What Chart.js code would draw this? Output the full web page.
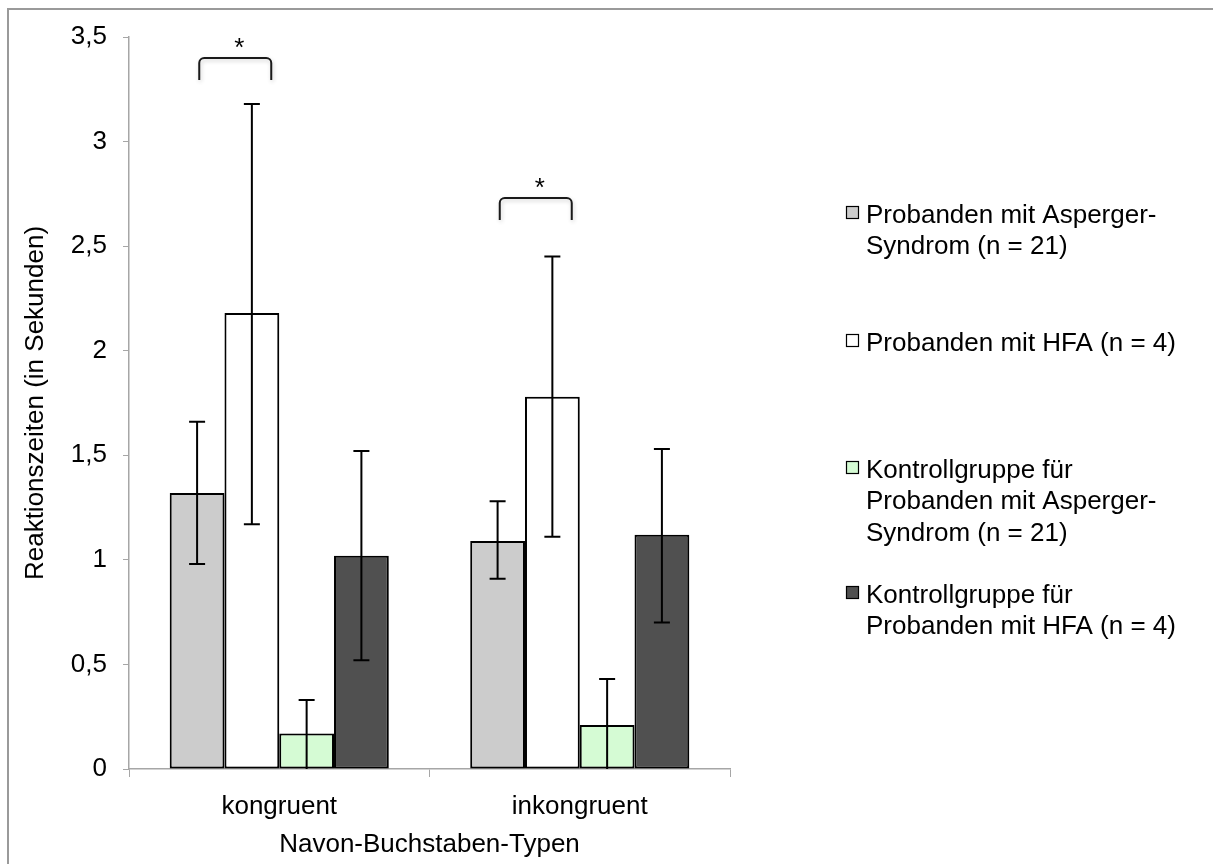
<!DOCTYPE html>
<html>
<head>
<meta charset="utf-8">
<script src="https://cdn.jsdelivr.net/npm/chart.js@4.4.1/dist/chart.umd.min.js"></script>
<style>
  html, body { margin: 0; padding: 0; background: #ffffff; }
  #wrap { width: 1213px; height: 864px; position: relative; }
</style>
</head>
<body>
<div id="wrap"><canvas id="c"></canvas></div>
<script>
// ---- data ----
const categories = ['kongruent', 'inkongruent'];
const seriesLabels = [
  ['Probanden mit Asperger-', 'Syndrom (n = 21)'],
  ['Probanden mit HFA (n = 4)'],
  ['Kontrollgruppe für', 'Probanden mit Asperger-', 'Syndrom (n = 21)'],
  ['Kontrollgruppe für', 'Probanden mit HFA (n = 4)']
];
const aspergerMean = [1.32, 1.09];
const aspergerLow  = [0.98, 0.91];
const aspergerHigh = [1.66, 1.28];
const hfaMean = [2.18, 1.78];
const hfaLow  = [1.17, 1.11];
const hfaHigh = [3.18, 2.45];
const kontrollAspMean = [0.17, 0.21];
const kontrollAspLow  = [0.00, 0.00];
const kontrollAspHigh = [0.33, 0.43];
const kontrollHfaMean = [1.02, 1.12];
const kontrollHfaLow  = [0.52, 0.70];
const kontrollHfaHigh = [1.52, 1.53];
const yTicks = [0, 0.5, 1, 1.5, 2, 2.5, 3, 3.5];
const significanceCategories = [0, 1];
const significanceLevel = [3.40, 2.73];
const significanceMark = '*';
const yTitle = 'Reaktionszeiten (in Sekunden)';
const xTitle = 'Navon-Buchstaben-Typen';

// ---- styles ----
const FONT = '"Liberation Sans", Arial, Helvetica, sans-serif';
const FS = 26;
const colors = ['#cccccc', '#ffffff', '#d5fbd4', '#505050'];
const axisColor = '#a6a6a6';

const means = [aspergerMean, hfaMean, kontrollAspMean, kontrollHfaMean];
const lows = [aspergerLow, hfaLow, kontrollAspLow, kontrollHfaLow];
const highs = [aspergerHigh, hfaHigh, kontrollAspHigh, kontrollHfaHigh];

const datasets = means.map((m, i) => ({
  label: seriesLabels[i].join(' '),
  data: m,
  errLow: lows[i],
  errHigh: highs[i],
  backgroundColor: colors[i],
  borderColor: '#000000',
  borderWidth: 2,
  borderSkipped: false,
  categoryPercentage: 0.729,
  barPercentage: 1.0
}));

const framePlugin = {
  id: 'frame',
  beforeDraw(chart) {
    const ctx = chart.ctx;
    ctx.save();
    ctx.fillStyle = '#ffffff';
    ctx.fillRect(0, 0, chart.width, chart.height);
    ctx.strokeStyle = '#9a9a9a';
    ctx.lineWidth = 2;
    ctx.beginPath();
    ctx.moveTo(8, chart.height + 5);
    ctx.lineTo(8, 9);
    ctx.lineTo(chart.width + 5, 9);
    ctx.stroke();
    ctx.restore();
  }
};

const errorBarPlugin = {
  id: 'errorBars',
  beforeDatasetsDraw(chart) {
    const ctx = chart.ctx;
    ctx.save();
    ctx.shadowColor = 'rgba(0,0,0,0.18)';
    ctx.shadowBlur = 5;
    ctx.shadowOffsetX = 2;
    ctx.shadowOffsetY = 2;
  },
  afterDatasetsDraw(chart) {
    const ctx = chart.ctx;
    ctx.restore();
    const ys = chart.scales.y;
    ctx.save();
    ctx.strokeStyle = '#000000';
    ctx.lineWidth = 2;
    chart.data.datasets.forEach((ds, i) => {
      const meta = chart.getDatasetMeta(i);
      meta.data.forEach((bar, j) => {
        const x = bar.x;
        const yl = ys.getPixelForValue(ds.errLow[j]);
        const yh = ys.getPixelForValue(ds.errHigh[j]);
        ctx.beginPath();
        ctx.moveTo(x, yl);
        ctx.lineTo(x, yh);
        ctx.moveTo(x - 8, yh);
        ctx.lineTo(x + 8, yh);
        if (ds.errLow[j] > 0) {
          ctx.moveTo(x - 8, yl);
          ctx.lineTo(x + 8, yl);
        }
        ctx.stroke();
      });
    });
    ctx.restore();
  }
};

const annotationPlugin = {
  id: 'annotations',
  afterDraw(chart) {
    const ctx = chart.ctx;
    const xs = chart.scales.x, ys = chart.scales.y;
    ctx.save();
    significanceCategories.forEach((ci, k) => {
      const cx = xs.getPixelForValue(ci);
      const x1 = cx - 80, x2 = cx - 8;
      const yTop = ys.getPixelForValue(significanceLevel[k]);
      const yBot = yTop + 22;
      const r = 5;
      ctx.save();
      ctx.shadowColor = 'rgba(0,0,0,0.2)';
      ctx.shadowBlur = 4;
      ctx.shadowOffsetX = 1;
      ctx.shadowOffsetY = 2;
      ctx.strokeStyle = '#1a1a1a';
      ctx.lineWidth = 2;
      ctx.beginPath();
      ctx.moveTo(x1, yBot);
      ctx.lineTo(x1, yTop + r);
      ctx.arcTo(x1, yTop, x1 + r, yTop, r);
      ctx.lineTo(x2 - r, yTop);
      ctx.arcTo(x2, yTop, x2, yTop + r, r);
      ctx.lineTo(x2, yBot);
      ctx.stroke();
      ctx.restore();
      ctx.fillStyle = '#000000';
      ctx.font = FS + 'px ' + FONT;
      ctx.textAlign = 'center';
      ctx.textBaseline = 'alphabetic';
      ctx.fillText(significanceMark, (x1 + x2) / 2 + 4, yTop - 2);
    });
    ctx.restore();
  }
};

const legendPlugin = {
  id: 'customLegend',
  afterDraw(chart) {
    const ctx = chart.ctx;
    const firstBaselines = [223, 351, 478, 603];
    const lineStep = 31.3;
    const markerX = 846, textX = 866, markerSize = 13;
    ctx.save();
    ctx.font = FS + 'px ' + FONT;
    ctx.textAlign = 'left';
    ctx.textBaseline = 'alphabetic';
    chart.data.datasets.forEach((ds, i) => {
      const b = firstBaselines[i];
      ctx.fillStyle = ds.backgroundColor;
      ctx.fillRect(markerX, b - 17, markerSize, markerSize);
      ctx.strokeStyle = '#000000';
      ctx.lineWidth = 1.2;
      ctx.strokeRect(markerX + 0.5, b - 16.5, markerSize - 1, markerSize - 1);
      ctx.fillStyle = '#000000';
      seriesLabels[i].forEach((line, li) => {
        ctx.fillText(line, textX, b + li * lineStep);
      });
    });
    ctx.restore();
  }
};

new Chart(document.getElementById('c'), {
  type: 'bar',
  data: { labels: categories, datasets },
  plugins: [framePlugin, errorBarPlugin, annotationPlugin, legendPlugin],
  options: {
    responsive: true,
    maintainAspectRatio: false,
    animation: false,
    devicePixelRatio: 1,
    layout: { padding: { top: 37, right: 483, left: 0, bottom: 0 } },
    plugins: {
      legend: { display: false },
      tooltip: { enabled: false },
      title: { display: false }
    },
    scales: {
      x: {
        offset: true,
        grid: { display: true, drawOnChartArea: false, drawTicks: true, tickLength: 8, color: axisColor, offset: true },
        border: { display: true, color: axisColor, width: 1.5 },
        ticks: { color: '#000000', font: { family: FONT, size: FS }, padding: 14 },
        title: { display: true, text: xTitle, color: '#000000', font: { family: FONT, size: FS }, padding: { top: 0, bottom: 4 } },
        afterFit(scale) { scale.height = 95; }
      },
      y: {
        min: 0,
        max: 3.5,
        afterBuildTicks(scale) { scale.ticks = yTicks.map(v => ({ value: v })); },
        grid: { display: true, drawOnChartArea: false, drawTicks: true, tickLength: 6, color: axisColor },
        border: { display: true, color: axisColor, width: 1.5 },
        ticks: {
          color: '#000000',
          font: { family: FONT, size: FS },
          padding: 16,
          callback: v => String(v).replace('.', ',')
        },
        title: { display: true, text: yTitle, color: '#000000', font: { family: FONT, size: FS }, padding: { top: 20, bottom: 0 } },
        afterFit(scale) { scale.width = 129; }
      }
    }
  }
});
</script>
</body>
</html>
